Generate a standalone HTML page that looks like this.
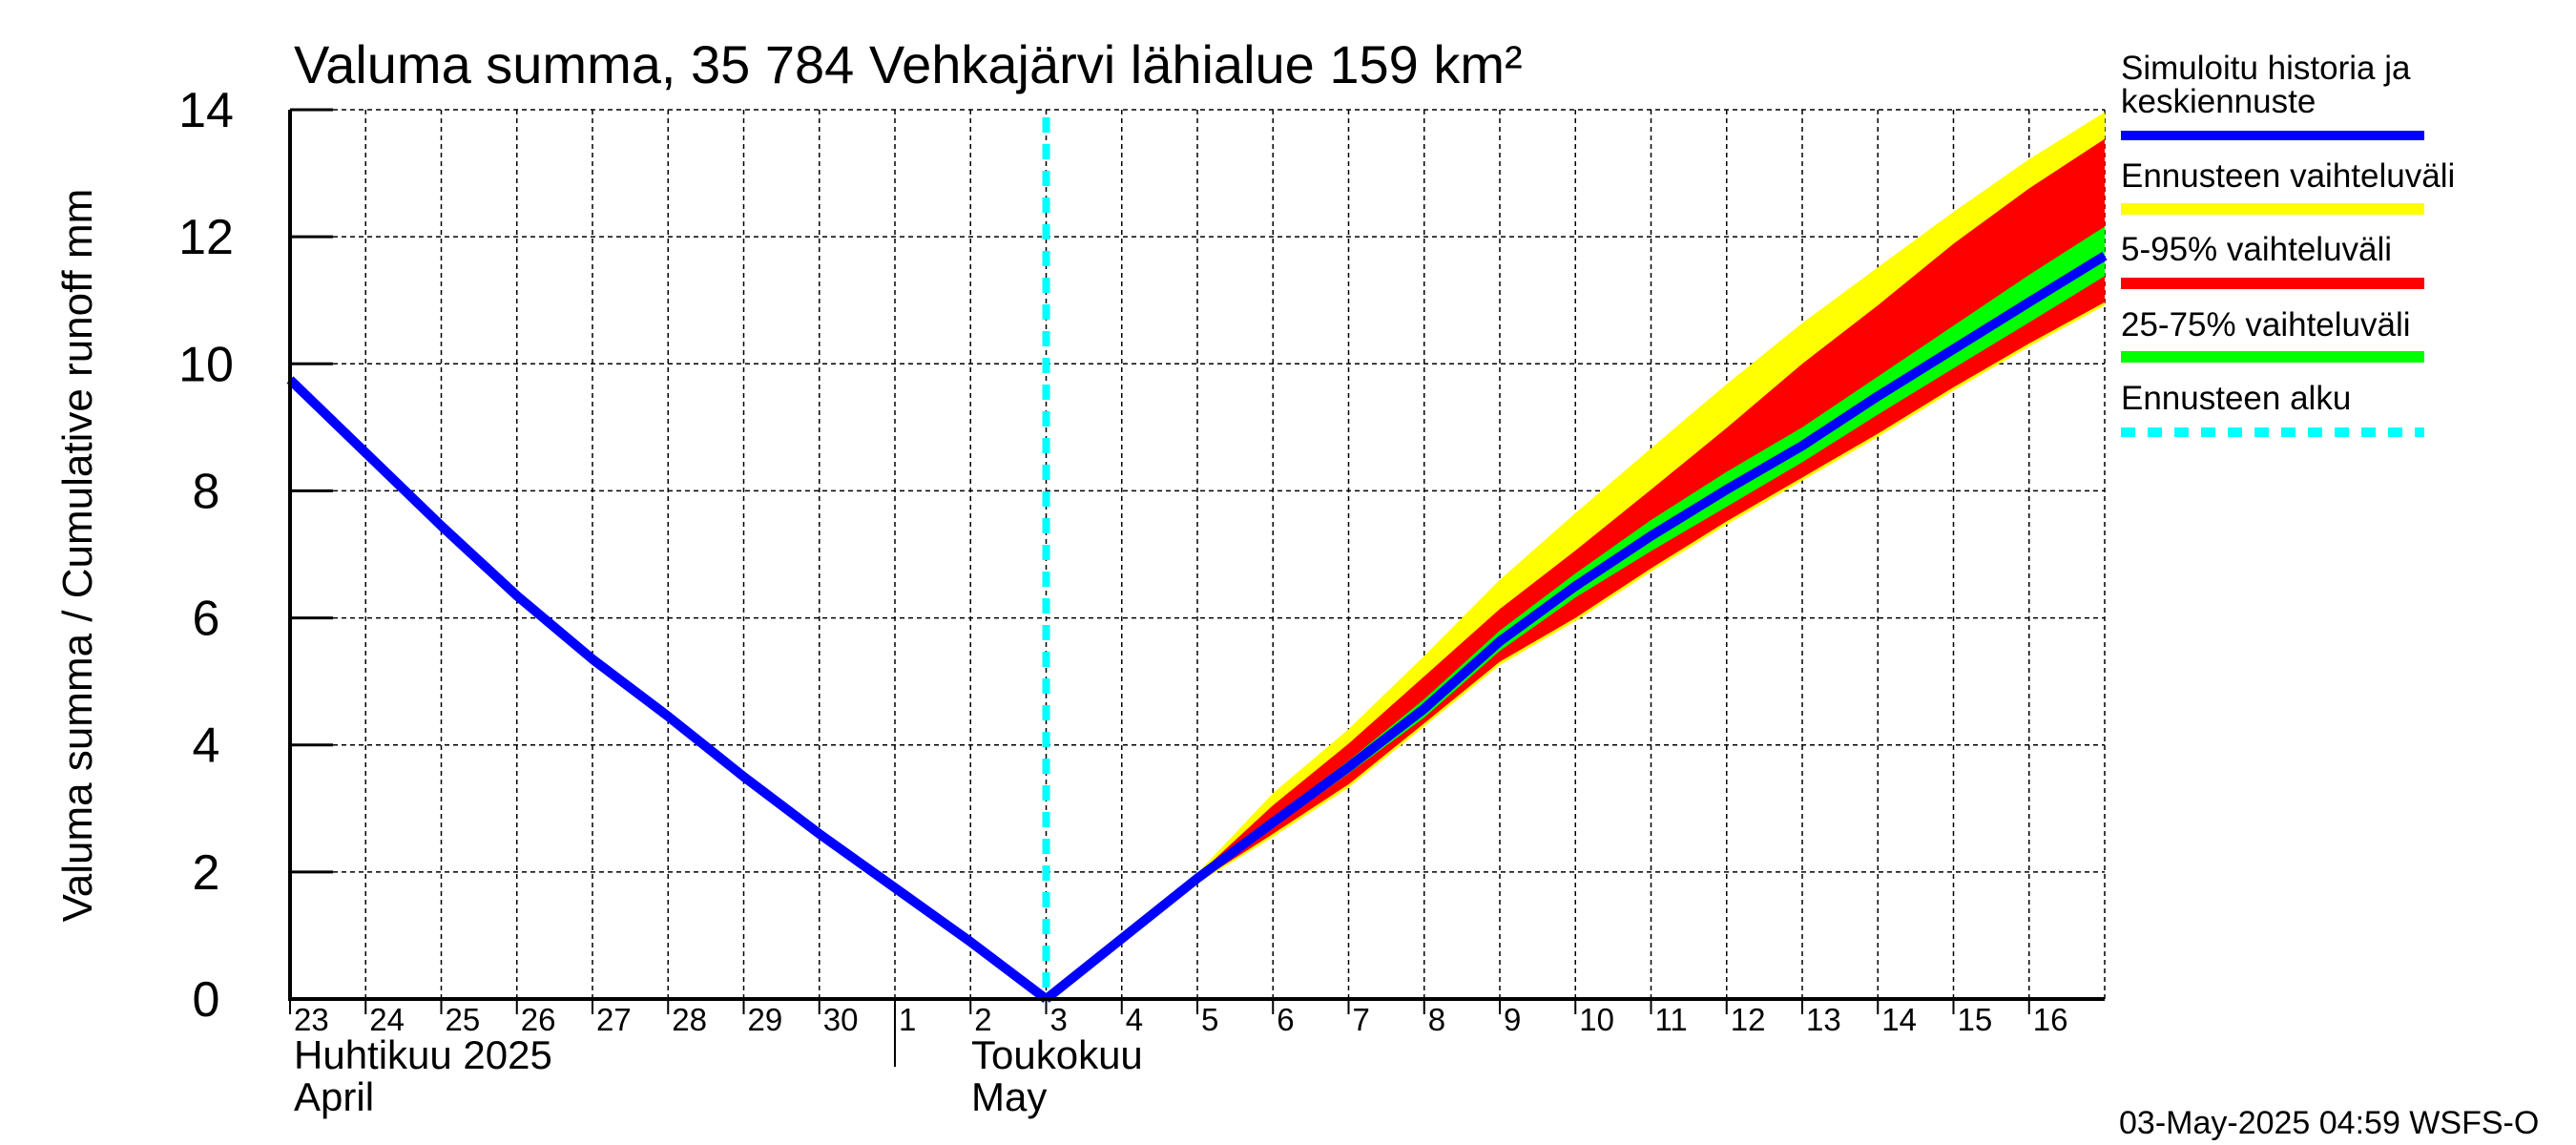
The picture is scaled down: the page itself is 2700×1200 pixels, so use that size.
<!DOCTYPE html>
<html><head><meta charset="utf-8"><style>
html,body{margin:0;padding:0;background:#fff;}
svg{display:block;font-family:"Liberation Sans",sans-serif;}
</style></head><body>
<svg id="chart" width="2700" height="1200" viewBox="0 0 2700 1200" xmlns="http://www.w3.org/2000/svg">
<rect width="2700" height="1200" fill="#fff"/>
<text x="308" y="87" font-size="56">Valuma summa, 35 784 Vehkajärvi lähialue 159 km²</text>
<text transform="translate(96,582) rotate(-90)" text-anchor="middle" font-size="44">Valuma summa / Cumulative runoff    mm</text>
<g id="grid"></g>
<g id="bands"></g>
<g id="lines"></g>
<g id="axes"></g>
<g font-size="35">
  <text x="2223" y="83">Simuloitu historia ja</text>
  <text x="2223" y="118">keskiennuste</text>
  <line x1="2223" y1="142" x2="2541" y2="142" stroke="#0000ff" stroke-width="10"/>
  <text x="2223" y="196">Ennusteen vaihteluväli</text>
  <line x1="2223" y1="219" x2="2541" y2="219" stroke="#ffff00" stroke-width="12"/>
  <text x="2223" y="273">5-95% vaihteluväli</text>
  <line x1="2223" y1="297" x2="2541" y2="297" stroke="#ff0000" stroke-width="12"/>
  <text x="2223" y="352">25-75% vaihteluväli</text>
  <line x1="2223" y1="374" x2="2541" y2="374" stroke="#00ff00" stroke-width="12"/>
  <text x="2223" y="429">Ennusteen alku</text>
  <line x1="2223" y1="453" x2="2541" y2="453" stroke="#00ffff" stroke-width="10" stroke-dasharray="15 13"/>
</g>
<text x="2221" y="1188" font-size="34">03-May-2025 04:59 WSFS-O</text>
</svg>
<script>
const dayLabels = ["23","24","25","26","27","28","29","30","1","2","3","4","5","6","7","8","9","10","11","12","13","14","15","16"];
const yTicks = [0,2,4,6,8,10,12,14];
const histDays = [0,1,2,3,4,5,6,7,8,9,10];
const histValues = [9.75,8.6,7.45,6.35,5.35,4.45,3.5,2.6,1.75,0.9,0];
const fcDays = [10,11,12,13,14,15,16,17,18,19,20,21,22,23,24];
const fcMedian = [0,0.95,1.9,2.78,3.65,4.57,5.63,6.5,7.29,8.02,8.71,9.49,10.23,10.97,11.7];
const fcMax = [0,0.97,1.98,3.24,4.25,5.4,6.6,7.65,8.67,9.68,10.64,11.52,12.39,13.22,13.96];
const fcMin = [0,0.93,1.82,2.55,3.33,4.29,5.26,5.95,6.73,7.47,8.16,8.85,9.58,10.27,10.92];
const fc95 = [0,0.96,1.95,3.05,4.02,5.08,6.14,7.06,8.02,8.99,10.0,10.92,11.89,12.76,13.54];
const fc5 = [0,0.94,1.84,2.6,3.38,4.34,5.31,6.0,6.78,7.52,8.21,8.9,9.63,10.32,10.97];
const fc75 = [0,0.96,1.93,2.86,3.75,4.72,5.8,6.7,7.54,8.3,9.0,9.8,10.6,11.4,12.16];
const fc25 = [0,0.94,1.87,2.7,3.55,4.43,5.48,6.32,7.05,7.75,8.45,9.2,9.93,10.65,11.38];
const forecastStartDay = 10;
const monthBoundaryDay = 8;

const L=304,R=2206,T=115,B=1047,NDAYS=24,YMAX=14;
const X=d=>L+d*(R-L)/NDAYS;
const Y=v=>B-v*(B-T)/YMAX;
const NS="http://www.w3.org/2000/svg";
function mk(tag,attrs,parent){const e=document.createElementNS(NS,tag);for(const k in attrs)e.setAttribute(k,attrs[k]);parent.appendChild(e);return e;}
const grid=document.getElementById('grid'),bands=document.getElementById('bands'),lines=document.getElementById('lines'),axes=document.getElementById('axes');

for(let d=1;d<=NDAYS;d++){
  const g=mk('line',{x1:X(d),y1:T,x2:X(d),y2:B,stroke:'#000','stroke-width':1.5,'stroke-dasharray':'5 4'},grid);
  
  
}
yTicks.forEach(v=>{
  if(v>0){const g=mk('line',{x1:L,y1:Y(v),x2:R,y2:Y(v),stroke:'#000','stroke-width':1.5,'stroke-dasharray':'5 4'},grid);
  
  }
  const t=mk('line',{x1:L,y1:Y(v),x2:L+45,y2:Y(v),stroke:'#000','stroke-width':3},axes);
  
  
  const lb=mk('text',{x:216,y:Y(v)+18,'text-anchor':'middle','font-size':52},axes);
  lb.textContent=v;
  
  
});

function band(up,lo,color,name){
  let pts=fcDays.map((d,i)=>X(d)+','+Y(up[i]));
  for(let i=fcDays.length-1;i>=0;i--)pts.push(X(fcDays[i])+','+Y(lo[i]));
  const p=mk('polygon',{points:pts.join(' '),fill:color},bands);
  
  
}
band(fcMax,fcMin,'#ffff00','band-full-range');
band(fc95,fc5,'#ff0000','band-5-95');
band(fc75,fc25,'#00ff00','band-25-75');

const cy=mk('line',{x1:X(forecastStartDay),y1:T+8,x2:X(forecastStartDay),y2:B,stroke:'#00ffff','stroke-width':8,'stroke-dasharray':'16 12'},lines);



const hp=mk('polyline',{points:histDays.map((d,i)=>X(d)+','+Y(histValues[i])).join(' '),fill:'none',stroke:'#0000ff','stroke-width':10,'stroke-linejoin':'round'},lines);


const fp=mk('polyline',{points:fcDays.map((d,i)=>X(d)+','+Y(fcMedian[i])).join(' '),fill:'none',stroke:'#0000ff','stroke-width':10,'stroke-linejoin':'round'},lines);



const ax=mk('path',{d:`M${L},${T} L${L},${B} L${R},${B}`,fill:'none',stroke:'#000','stroke-width':4},axes);


dayLabels.forEach((s,i)=>{
  const tk=mk('line',{x1:X(i),y1:B,x2:X(i),y2:B+16,stroke:'#000','stroke-width':2},axes);
  
  
  const t=mk('text',{x:X(i)+4,y:1080,'font-size':33},axes);
  t.textContent=s;
  
  
});
const mb=mk('line',{x1:X(monthBoundaryDay),y1:B,x2:X(monthBoundaryDay),y2:1118,stroke:'#000','stroke-width':2},axes);


[["Huhtikuu  2025",308,1120],["April",308,1164],["Toukokuu",1018,1120],["May",1018,1164]].forEach(a=>{
  const t=mk('text',{x:a[1],y:a[2],'font-size':42,'xml:space':'preserve'},axes);
  t.textContent=a[0];
  
  
});
</script>
</body></html>
